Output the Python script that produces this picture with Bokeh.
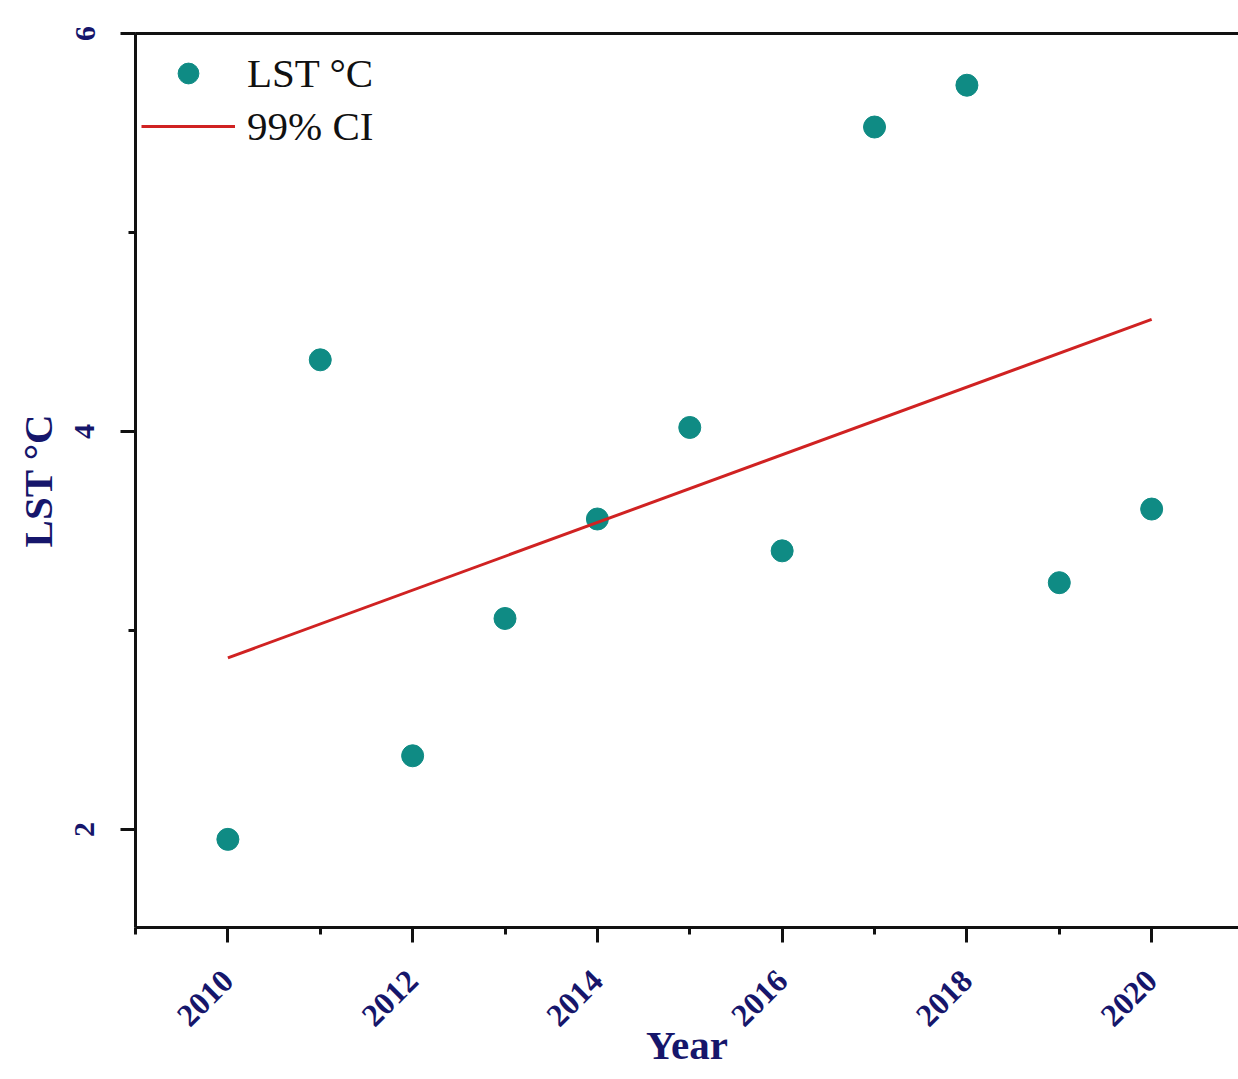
import numpy as np
from bokeh.plotting import figure
from bokeh.models import LinearAxis, Legend, LegendItem, FixedTicker, Range1d
from bokeh.embed import file_html
from bokeh.resources import INLINE

years = [2010, 2011, 2012, 2013, 2014, 2015, 2016, 2017, 2018, 2019, 2020]
lst = [1.95, 4.36, 2.37, 3.06, 3.56, 4.02, 3.40, 5.53, 5.74, 3.24, 3.61]
x_ticks = [2010, 2012, 2014, 2016, 2018, 2020]
y_ticks = [2, 4, 6]

slope, intercept = np.polyfit(years, lst, 1)
fit_x = [years[0], years[-1]]
fit_y = [slope * xx + intercept for xx in fit_x]

NAVY = "#16166b"
TEAL = "#0f8b84"
RED = "#d02222"
SERIF = "Liberation Serif"

p = figure(width=1238, height=1079, output_backend="svg", toolbar_location=None,
           x_range=Range1d(2009, 2020.94), y_range=Range1d(1.507, 6),
           min_border_left=135, min_border_right=0, min_border_top=33,
           min_border_bottom=152)
p.outline_line_color = None
p.xgrid.visible = False
p.ygrid.visible = False
p.background_fill_color = "white"
p.border_fill_color = "white"

xa = p.xaxis[0]
xa.ticker = FixedTicker(ticks=x_ticks, minor_ticks=list(range(2009, 2022)))
xa.major_label_orientation = np.pi / 4
xa.major_label_text_font = SERIF
xa.major_label_text_font_style = "bold"
xa.major_label_text_font_size = "32px"
xa.major_label_text_color = NAVY
xa.major_label_standoff = 33
xa.axis_label = "Year"
xa.axis_label_text_font = SERIF
xa.axis_label_text_font_style = "bold"
xa.axis_label_text_font_size = "41px"
xa.axis_label_text_color = NAVY
xa.axis_label_standoff = -17

ya = p.yaxis[0]
ya.ticker = FixedTicker(ticks=y_ticks, minor_ticks=[2, 3, 4, 5, 6])
ya.major_label_orientation = "vertical"
ya.major_label_text_font = SERIF
ya.major_label_text_font_style = "bold"
ya.major_label_text_font_size = "30px"
ya.major_label_text_color = NAVY
ya.major_label_standoff = 26
ya.axis_label = "LST °C"
ya.axis_label_text_font = SERIF
ya.axis_label_text_font_style = "bold"
ya.axis_label_text_font_size = "41px"
ya.axis_label_text_color = NAVY
ya.axis_label_standoff = 12

for ax in (xa, ya):
    ax.axis_line_width = 3
    ax.axis_line_color = "#111111"
    ax.major_tick_line_width = 3
    ax.minor_tick_line_width = 3
    ax.major_tick_line_color = "#111111"
    ax.minor_tick_line_color = "#111111"
    ax.major_tick_in = 0
    ax.minor_tick_in = 0
    ax.major_tick_out = 15
    ax.minor_tick_out = 7

top = LinearAxis(major_label_text_font_size="0px", major_tick_out=0, major_tick_in=0,
                 minor_tick_out=0, minor_tick_in=0, axis_line_width=3,
                 axis_line_color="#111111", major_label_standoff=0)
top.ticker = FixedTicker(ticks=[])
p.add_layout(top, "above")

pts = p.scatter(years, lst, size=22, fill_color=TEAL, line_color=TEAL)
ln = p.line(fit_x, fit_y, line_color=RED, line_width=3)

legend = Legend(items=[LegendItem(label="LST °C", renderers=[pts]),
                       LegendItem(label="99% CI", renderers=[ln])],
                location=(6, 775), orientation="vertical")
legend.border_line_color = None
legend.background_fill_alpha = 0
legend.label_text_font = SERIF
legend.label_text_font_size = "41px"
legend.label_text_color = "#111111"
legend.glyph_width = 94
legend.glyph_height = 52
legend.label_height = 52
legend.spacing = 1
legend.padding = 8
legend.margin = 0
legend.label_standoff = 12
p.add_layout(legend, "center")

open("out.html", "w").write(file_html(p, INLINE))
